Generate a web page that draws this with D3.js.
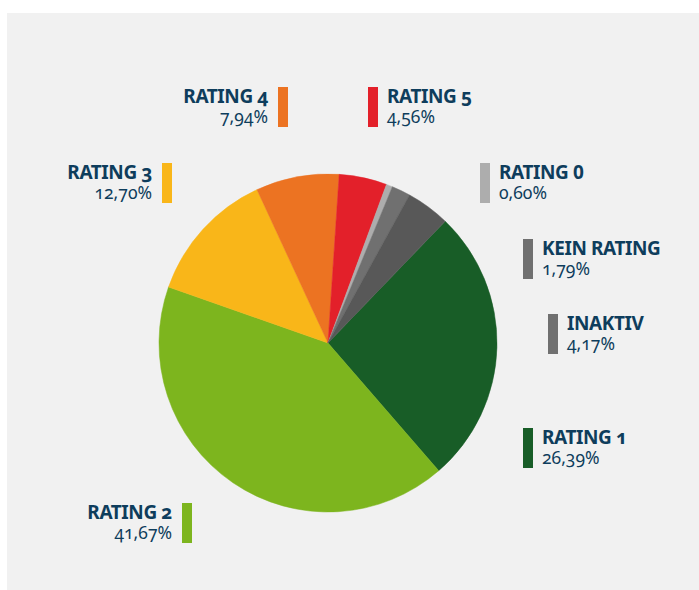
<!DOCTYPE html>
<html lang="de">
<head>
<meta charset="UTF-8" />
<title>rating pie</title>
<script src="https://cdn.jsdelivr.net/npm/d3@7"></script>
<style>
  body { margin: 0; background: #fff; }
  text { font-family: "Noto Sans", sans-serif; fill: #0e3d5c; font-variant-numeric: oldstyle-nums; }
  text.lining { font-variant-numeric: lining-nums; }
</style>
</head>
<body>
<svg id="mainsvg" width="699" height="590"></svg>
<script>
const labels = ["RATING 1", "RATING 2", "RATING 3", "RATING 4", "RATING 5", "RATING 0", "KEIN RATING", "INAKTIV"]
const values = [26.39, 41.67, 12.70, 7.94, 4.56, 0.60, 1.79, 4.17]
const sliceColors = ["#185d27", "#7db51e", "#f9b619", "#ec7322", "#e3202a", "#adadad", "#707070", "#585858"]
const barColors = ["#185d27", "#7db51e", "#f9b619", "#ec7322", "#e3202a", "#adadad", "#707070", "#707070"]
// legend placement: bar top-left, text side
const legendPos = [
  { x: 523, y: 428, side: "right" },
  { x: 182, y: 503, side: "left" },
  { x: 162, y: 163, side: "left" },
  { x: 278, y: 87, side: "left" },
  { x: 368, y: 87, side: "right" },
  { x: 480, y: 163, side: "right" },
  { x: 523, y: 239, side: "right" },
  { x: 548, y: 314, side: "right" },
]

const svg = d3.select("#mainsvg")
svg.append("rect").attr("x", 7).attr("y", 13).attr("width", 692).attr("height", 577).attr("fill", "#f1f1f1")

const cx = 328, cy = 343, r = 169
const start = 43.9 * Math.PI / 180
const data = labels.map((d, i) => ({ label: d, value: values[i], i }))
const pie = d3.pie().sort(null).value((d) => d.value).startAngle(start).endAngle(start + 2 * Math.PI)
const arc = d3.arc().innerRadius(0).outerRadius(r)

svg.append("g")
  .attr("transform", `translate(${cx},${cy})`)
  .selectAll("path")
  .data(pie(data))
  .join("path")
  .attr("d", arc)
  .attr("fill", (d) => sliceColors[d.data.i])
  .attr("stroke", (d) => sliceColors[d.data.i])
  .attr("stroke-width", 0.5)

const fmt = (v) => v.toFixed(2).replace(".", ",") + "%"

const leg = svg.selectAll("g.leg")
  .data(data)
  .join("g")
  .attr("class", "leg")
  .attr("transform", (d) => `translate(${legendPos[d.i].x},${legendPos[d.i].y})`)

leg.append("rect")
  .attr("width", 10)
  .attr("height", 40)
  .attr("fill", (d) => barColors[d.i])

leg.append("text")
  .attr("class", (d) => d.label === "RATING 0" ? "lining" : null)
  .attr("x", (d) => legendPos[d.i].side === "right" ? 19 : -10)
  .attr("y", 16)
  .attr("text-anchor", (d) => legendPos[d.i].side === "right" ? "start" : "end")
  .attr("font-size", 19)
  .attr("font-weight", "bold")
  .attr("letter-spacing", -0.4)
  .text((d) => d.label)

leg.append("text")
  .attr("x", (d) => legendPos[d.i].side === "right" ? 19 : -10)
  .attr("y", 36)
  .attr("text-anchor", (d) => legendPos[d.i].side === "right" ? "start" : "end")
  .attr("font-size", 17.5)
  .text((d) => fmt(d.value))
</script>
</body>
</html>
